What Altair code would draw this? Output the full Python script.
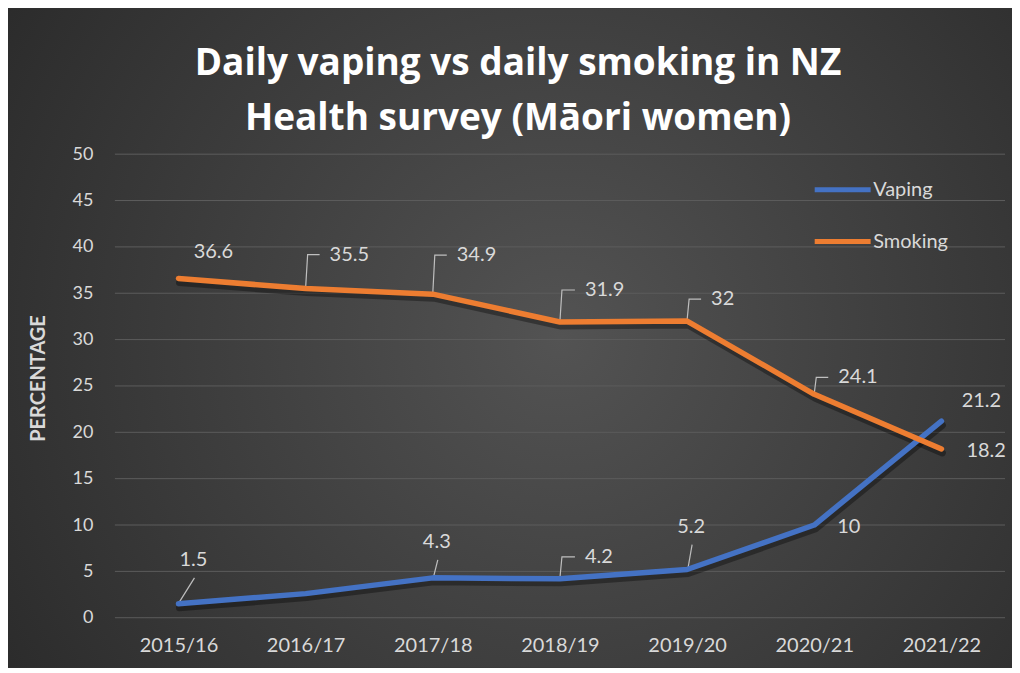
import altair as alt
import pandas as pd

# ---------------- data ----------------
years = ["2015/16", "2016/17", "2017/18", "2018/19", "2019/20", "2020/21", "2021/22"]
vaping = [1.5, 2.6, 4.3, 4.2, 5.2, 10, 21.2]
smoking = [36.6, 35.5, 34.9, 31.9, 32, 24.1, 18.2]
y_ticks = [0, 5, 10, 15, 20, 25, 30, 35, 40, 45, 50]
series_names = ["Vaping", "Smoking"]
series_colors = ["#4472C4", "#ED7D31"]

# label placement per point: (dx px, dy px, align, leader type) ; None = no label
vaping_label_style = [(15, -44, "center", "diag"), None, (4, -36, "center", "diag"),
                      (25, -22, "left", "elbow"), (4, -43, "center", "diag"),
                      (23, 2, "left", "none"), (40, -20, "center", "none")]
smoking_label_style = [(35, -26, "center", "none"), (24, -34, "left", "elbow"),
                       (24, -39, "left", "elbow"), (25, -32, "left", "elbow"),
                       (24, -22, "left", "elbow"), (24, -17, "left", "elbow"),
                       (25, 2, "left", "none")]

# ---------------- layout ----------------
W, H = 891, 464
PAD = {"left": 107, "top": 146, "right": 7, "bottom": 50}
XDOM = [-0.5, len(years) - 0.5]
YDOM = [0, 50]
PX = W / (XDOM[1] - XDOM[0])   # px per x unit
PY = H / (YDOM[1] - YDOM[0])   # px per y unit
FONT = "Lato"
TXT = "#d9d9d9"

rows, labels, leaders = [], [], []
lid = 0
for s, vals, styles in [("Vaping", vaping, vaping_label_style),
                        ("Smoking", smoking, smoking_label_style)]:
    for i, v in enumerate(vals):
        rows.append({"idx": i, "value": v, "series": s})
        st = styles[i]
        if st is None:
            continue
        dx, dy, align, kind = st
        lx = i + dx / PX
        ly = v - dy / PY
        labels.append({"x": lx, "y": ly, "text": f"{v:g}", "align": align})
        if kind == "elbow":
            pts = [(i, v + 1 / PY), (i + 2 / PX, ly), (i + (dx - 10) / PX, ly)]
        elif kind == "diag":
            pts = [(i + 1 / PX, v + 2 / PY), (lx + 1 / PX, ly - 18 / PY)]
        else:
            pts = []
        for k, (px_, py_) in enumerate(pts):
            leaders.append({"lid": lid, "ord": k, "x": px_, "y": py_})
        lid += 1

df = pd.DataFrame(rows)
lab = pd.DataFrame(labels)
lead = pd.DataFrame(leaders)
grid_df = pd.DataFrame({"v": y_ticks})

xscale = alt.Scale(domain=XDOM, nice=False, zero=False)
yscale = alt.Scale(domain=YDOM, nice=False)

xaxis = alt.Axis(values=list(range(len(years))),
                 labelExpr=f"{years}[datum.value]",
                 grid=False, ticks=False, domain=False, title=None, zindex=1,
                 labelFontSize=20, labelColor=TXT, labelFont=FONT, labelPadding=18)
yaxis = alt.Axis(values=y_ticks, grid=False, ticks=False, domain=False, zindex=1,
                 title="PERCENTAGE", titleFontSize=20, titleFontWeight="bold",
                 titleColor=TXT, titleFont=FONT, titlePadding=24, titleY=224,
                 labelFontSize=18, labelColor=TXT, labelFont=FONT, labelPadding=22)

# background gradient panel
bg = alt.Chart(pd.DataFrame({"a": [0]})).mark_rect(
    fill=alt.Gradient(gradient="radial",
                      stops=[alt.GradientStop(offset=0, color="#535353"),
                             alt.GradientStop(offset=1, color="#252525")],
                      x1=0.55, y1=0.5, r1=0, x2=0.55, y2=0.5, r2=0.75),
    clip=False
).encode(x=alt.value(-PAD["left"]), x2=alt.value(W + PAD["right"]),
         y=alt.value(-PAD["top"]), y2=alt.value(H + PAD["bottom"]))

grid = alt.Chart(grid_df).mark_rule(color="#5c5c5c", strokeWidth=1).encode(
    y=alt.Y("v:Q", scale=yscale, axis=yaxis))

base_x = alt.X("idx:Q", scale=xscale, axis=xaxis)
base_y = alt.Y("value:Q", scale=yscale, axis=yaxis)

leader_layer = alt.Chart(lead).mark_line(color="#bfbfbf", strokeWidth=1.2).encode(
    x=alt.X("x:Q", scale=xscale, axis=xaxis), y=alt.Y("y:Q", scale=yscale, axis=yaxis),
    detail="lid:N", order="ord:Q")

shadow = alt.Chart(df).mark_line(color="black", opacity=0.35, strokeWidth=7,
                                 yOffset=4, xOffset=1, strokeCap="round",
                                 strokeJoin="round").encode(
    x=base_x, y=base_y, detail="series:N")

lines = alt.Chart(df).mark_line(strokeWidth=5.5, strokeCap="round",
                                strokeJoin="round").encode(
    x=base_x, y=base_y,
    color=alt.Color("series:N",
                    scale=alt.Scale(domain=series_names, range=series_colors),
                    legend=alt.Legend(orient="none", legendX=698, legendY=5,
                                      title=None, symbolType="stroke",
                                      symbolSize=3136, symbolStrokeWidth=5,
                                      labelFontSize=20, labelColor=TXT,
                                      labelFont=FONT, rowPadding=11,
                                      labelOffset=0)))

text_left = alt.Chart(lab[lab["align"] == "left"]).mark_text(
    align="left", baseline="middle", fontSize=20, font=FONT, color=TXT).encode(
    x=alt.X("x:Q", scale=xscale, axis=xaxis), y=alt.Y("y:Q", scale=yscale, axis=yaxis),
    text="text:N")
text_center = alt.Chart(lab[lab["align"] == "center"]).mark_text(
    align="center", baseline="middle", fontSize=20, font=FONT, color=TXT).encode(
    x=alt.X("x:Q", scale=xscale, axis=xaxis), y=alt.Y("y:Q", scale=yscale, axis=yaxis),
    text="text:N")

chart = alt.layer(bg, grid, leader_layer, shadow, lines, text_left, text_center).properties(
    width=W, height=H,
    padding=PAD,
    autosize=alt.AutoSizeParams(type="none"),
    background="#333333",
    title=alt.TitleParams(
        text=["Daily vaping vs daily smoking in NZ", "Health survey (Māori women)"],
        fontSize=37, font="Open Sans", fontWeight="bold", color="white",
        anchor="middle", frame="group", dx=-42, dy=144, offset=14, lineHeight=55),
).configure_view(stroke=None)

chart.save("out.html", embed_options={"renderer": "svg", "actions": False})
